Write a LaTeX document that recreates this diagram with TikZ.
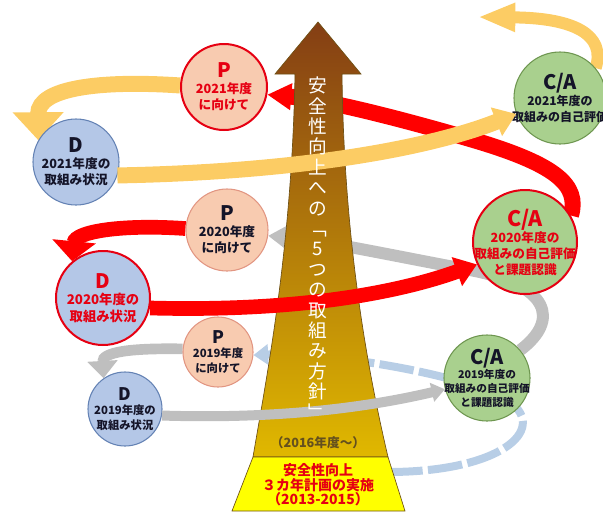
\documentclass[tikz,border=0pt]{standalone}
\usepackage{fontspec}
\setmainfont{Noto Sans CJK JP}
\usepackage{tikz}
\usetikzlibrary{arrows.meta}
\definecolor{bandyellow}{RGB}{252,204,100}
\definecolor{bandred}{RGB}{255,0,0}
\definecolor{bandgray}{RGB}{191,191,191}
\definecolor{bandblue}{RGB}{184,206,230}
\definecolor{pfill}{RGB}{248,203,176}
\definecolor{pline}{RGB}{226,150,130}
\definecolor{dfill}{RGB}{180,199,231}
\definecolor{dline}{RGB}{100,130,180}
\definecolor{cafill}{RGB}{169,208,142}
\definecolor{caline}{RGB}{110,150,80}
\definecolor{hotred}{RGB}{230,0,18}
\definecolor{darktxt}{RGB}{20,20,40}
\definecolor{arrowtop}{RGB}{132,62,20}
\definecolor{arrowmid}{RGB}{208,118,22}
\definecolor{arrowbot}{RGB}{224,184,0}
\definecolor{arrowedge}{RGB}{110,80,20}
\definecolor{boxyellow}{RGB}{255,255,0}
\definecolor{sincetxt}{RGB}{100,80,30}
\pgfdeclarelayer{behind}
\pgfdeclarelayer{shaft}
\pgfdeclarelayer{front}
\pgfsetlayers{behind,shaft,main,front}
\newcommand{\cycmark}[2]{{\fontsize{#1}{#1}\selectfont #2}\\}

\begin{document}
\begin{tikzpicture}[x=0.75pt,y=-0.75pt,
  cyc/.style={circle,draw,line width=0.8pt,inner sep=0pt},
  pcyc/.style={cyc,fill=pfill,draw=pline},
  dcyc/.style={cyc,fill=dfill,draw=dline},
  cacyc/.style={cyc,fill=cafill,draw=caline},
  hot/.style={draw=hotred,line width=1.5pt},
  cyctext/.style 2 args={align=center,inner sep=0pt,text=darktxt,font=\bfseries\fontsize{#1}{#2}\selectfont},
  ylband/.style={draw=bandyellow,line width=12pt},
  rdband/.style={draw=bandred,line width=11pt},
  gyband/.style={draw=bandgray,line width=8pt},
  blband/.style={draw=bandblue,line width=6pt}]
  \useasboundingbox (0,0) rectangle (603,511);

  \node[pcyc,hot,minimum size=64.5pt] (p21) at (224,87) {};
  \node[cyctext={9.5}{12},text=hotred] (p21t) at (p21) {\cycmark{15}{P}2021年度\\に向けて};
  \node[dcyc,minimum size=64.5pt] (d21) at (76,162) {};
  \node[cyctext={9.5}{12}] (d21t) at (d21) {\cycmark{15}{D}2021年度の\\取組み状況};
  \node[cacyc,minimum size=69pt] (c21) at (560,98) {};
  \node[cyctext={9}{12}] (c21t) at (c21) {\cycmark{15}{C/A}2021年度の\\取組みの自己評価};

  \node[pcyc,minimum size=61.5pt] (p20) at (227,230) {};
  \node[cyctext={9.5}{12}] (p20t) at (p20) {\cycmark{15}{P}2020年度\\に向けて};
  \node[dcyc,hot,minimum size=70.5pt] (d20) at (103,298) {};
  \node[cyctext={10}{12.5},text=hotred] (d20t) at (d20) {\cycmark{15}{D}2020年度の\\取組み状況};
  \node[cacyc,hot,minimum size=78pt] (c20) at (525,242) {};
  \node[cyctext={9.5}{12},text=hotred] (c20t) at (c20) {\cycmark{16}{C/A}2020年度の\\取組みの自己評価\\と課題認識};

  \node[pcyc,minimum size=52.5pt] (p19) at (218,352) {};
  \node[cyctext={8.5}{11}] (p19t) at (p19) {\cycmark{13}{P}2019年度\\に向けて};
  \node[dcyc,minimum size=55.5pt] (d19) at (125,409) {};
  \node[cyctext={8.5}{11}] (d19t) at (d19) {\cycmark{13}{D}2019年度の\\取組み状況};
  \node[cacyc,minimum size=64.5pt] (c19) at (487,378) {};
  \node[cyctext={8}{10.5}] (c19t) at (c19) {\cycmark{15}{C/A}2019年度の\\取組みの自己評価\\と課題認識};

  \coordinate (s18) at (388,472);
  \coordinate (top21) at (478,17);

  \begin{pgfonlayer}{behind}
    \draw[blband,dash pattern=on 26pt off 4pt,-{Triangle[width=15pt,length=11pt]}] (s18) .. controls (500,472) and (548,430) .. (510,402) .. controls (470,375) and (330,352) .. (p19.-5);
    \draw[gyband,line width=9pt,-{Triangle[width=17pt,length=14pt]}] (c19.40) .. controls (560,320) and (550,285) .. (470,270) .. controls (390,255) and (320,240) .. (p20.-8);
    \draw[rdband,line width=12pt,-{Triangle[width=19pt,length=18pt]}] (c20.30) .. controls (580,185) and (555,165) .. (480,142) .. controls (420,124) and (330,100) .. (p21.-10);
  \end{pgfonlayer}

  \begin{pgfonlayer}{shaft}
    \shade[top color=arrowtop,middle color=arrowmid,bottom color=arrowbot,draw=arrowedge,line width=0.5pt] (318,22) -- (361,74) -- (342,74) .. controls (344,250) and (370,380) .. (388,457) -- (253,457) .. controls (266,380) and (292,250) .. (295,74) -- (275,74) -- cycle;
    \draw[fill=boxyellow,draw=arrowedge,line width=0.5pt] (253,457) -- (388,457) -- (405,511) -- (232,511) -- cycle;
    \draw[ylband,-{Triangle[width=37pt,length=21pt]}] (p21.178) .. controls (100,80) and (38,88) .. (d21.150);
    \draw[rdband,-{Triangle[width=32pt,length=15pt]}] (p20.178) .. controls (120,224) and (75,232) .. (d20.130);
    \draw[gyband,-{Triangle[width=22pt,length=13pt]}] (p19.175) .. controls (130,348) and (102,352) .. (d19.125);
    \draw[ylband,line width=9pt,-{Triangle[width=20pt,length=28pt]}] (c21.40) .. controls (606,35) and (575,18) .. (top21);
  \end{pgfonlayer}

  \begin{pgfonlayer}{front}
    \draw[gyband,line width=7.5pt,-{Triangle[width=14pt,length=10pt]}] (d19.-10) .. controls (300,420) and (390,402) .. (c19.195);
    \draw[rdband,-{Triangle[width=22pt,length=16pt]}] (d20.-12) .. controls (300,312) and (400,292) .. (c20.205);
    \draw[ylband,-{Triangle[width=22pt,length=16pt]}] (d21.-18) .. controls (300,172) and (430,148) .. (c21.200);
    \node[align=center,inner sep=0pt,text=white,font=\fontsize{14}{15.3}\selectfont] (motto) at (318,248) {安\\全\\性\\向\\上\\へ\\の\\﹁\\5\\つ\\の\\取\\組\\み\\方\\針\\﹂};
    \node[text=sincetxt,font=\bfseries\fontsize{9.5}{11}\selectfont] (since) at (318,443) {（2016年度～）};
    \node[align=center,inner sep=0pt,text=hotred,font=\bfseries\fontsize{10.5}{11}\selectfont] (plan) at (318,485) {安全性向上\\３カ年計画の実施\\（2013-2015）};
  \end{pgfonlayer}
\end{tikzpicture}
\end{document}
